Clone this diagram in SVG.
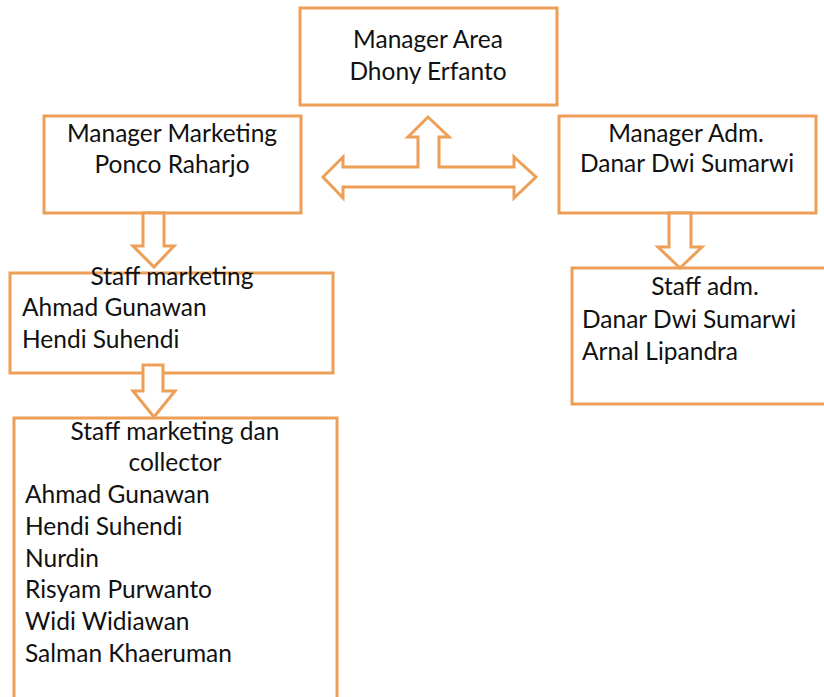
<svg xmlns="http://www.w3.org/2000/svg" width="824" height="697" viewBox="0 0 824 697">
  <style>
    .box { fill: #ffffff; stroke: #EE9F57; stroke-width: 3; }
    .arrow { fill: #ffffff; stroke: #EE9F57; stroke-width: 3; stroke-linejoin: miter; }
    text { font-family: Lato, "Open Sans", sans-serif; font-size: 24.5px; fill: #111111; }
    .c { text-anchor: middle; }
  </style>
  <rect width="824" height="697" fill="#ffffff"/>

  <g id="manager-area">
    <rect class="box" x="300" y="8" width="257" height="97"/>
    <text class="c" x="428" y="48">Manager Area</text>
    <text class="c" x="428" y="80">Dhony Erfanto</text>
  </g>

  <g id="manager-marketing">
    <rect class="box" x="44" y="116" width="257" height="97"/>
    <text class="c" x="172" y="142">Manager Marketing</text>
    <text class="c" x="172" y="173">Ponco Raharjo</text>
  </g>

  <g id="manager-adm">
    <rect class="box" x="559" y="116" width="257" height="97"/>
    <text class="c" x="686" y="142">Manager Adm.</text>
    <text class="c" x="687" y="172">Danar Dwi Sumarwi</text>
  </g>

  <g id="staff-marketing">
    <rect class="box" x="10" y="273" width="323" height="100"/>
    <text class="c" x="172" y="285">Staff marketing</text>
    <text x="22" y="316">Ahmad Gunawan</text>
    <text x="22" y="348">Hendi Suhendi</text>
  </g>

  <g id="staff-adm">
    <rect class="box" x="572" y="268" width="260" height="136"/>
    <text class="c" x="705" y="295">Staff adm.</text>
    <text x="582" y="328">Danar Dwi Sumarwi</text>
    <text x="582" y="360">Arnal Lipandra</text>
  </g>

  <g id="staff-collector">
    <rect class="box" x="14" y="418" width="323" height="300"/>
    <text class="c" x="175" y="440">Staff marketing dan</text>
    <text class="c" x="175" y="471">collector</text>
    <text x="25" y="503">Ahmad Gunawan</text>
    <text x="25" y="535">Hendi Suhendi</text>
    <text x="25" y="567">Nurdin</text>
    <text x="25" y="598">Risyam Purwanto</text>
    <text x="25" y="630">Widi Widiawan</text>
    <text x="25" y="662">Salman Khaeruman</text>
  </g>

  <g id="connectors">
    <!-- three-way block arrow between the managers -->
    <path class="arrow" d="M323,177 L343,157 L343,167 L418,167 L418,137 L408,137 L428,117 L449,137 L439,137 L439,167 L514,167 L514,157 L536,177 L514,198 L514,187 L343,187 L343,198 Z"/>
    <!-- manager marketing to staff marketing -->
    <path class="arrow" d="M143,213 L164,213 L164,246 L174,246 L154,267 L133,246 L143,246 Z"/>
    <!-- manager adm to staff adm -->
    <path class="arrow" d="M669,213 L691,213 L691,247 L702,247 L680,268 L658,247 L669,247 Z"/>
    <!-- staff marketing to staff marketing dan collector -->
    <path class="arrow" d="M143,365 L163,365 L163,391 L175,391 L154,417 L133,391 L143,391 Z"/>
  </g>
</svg>
